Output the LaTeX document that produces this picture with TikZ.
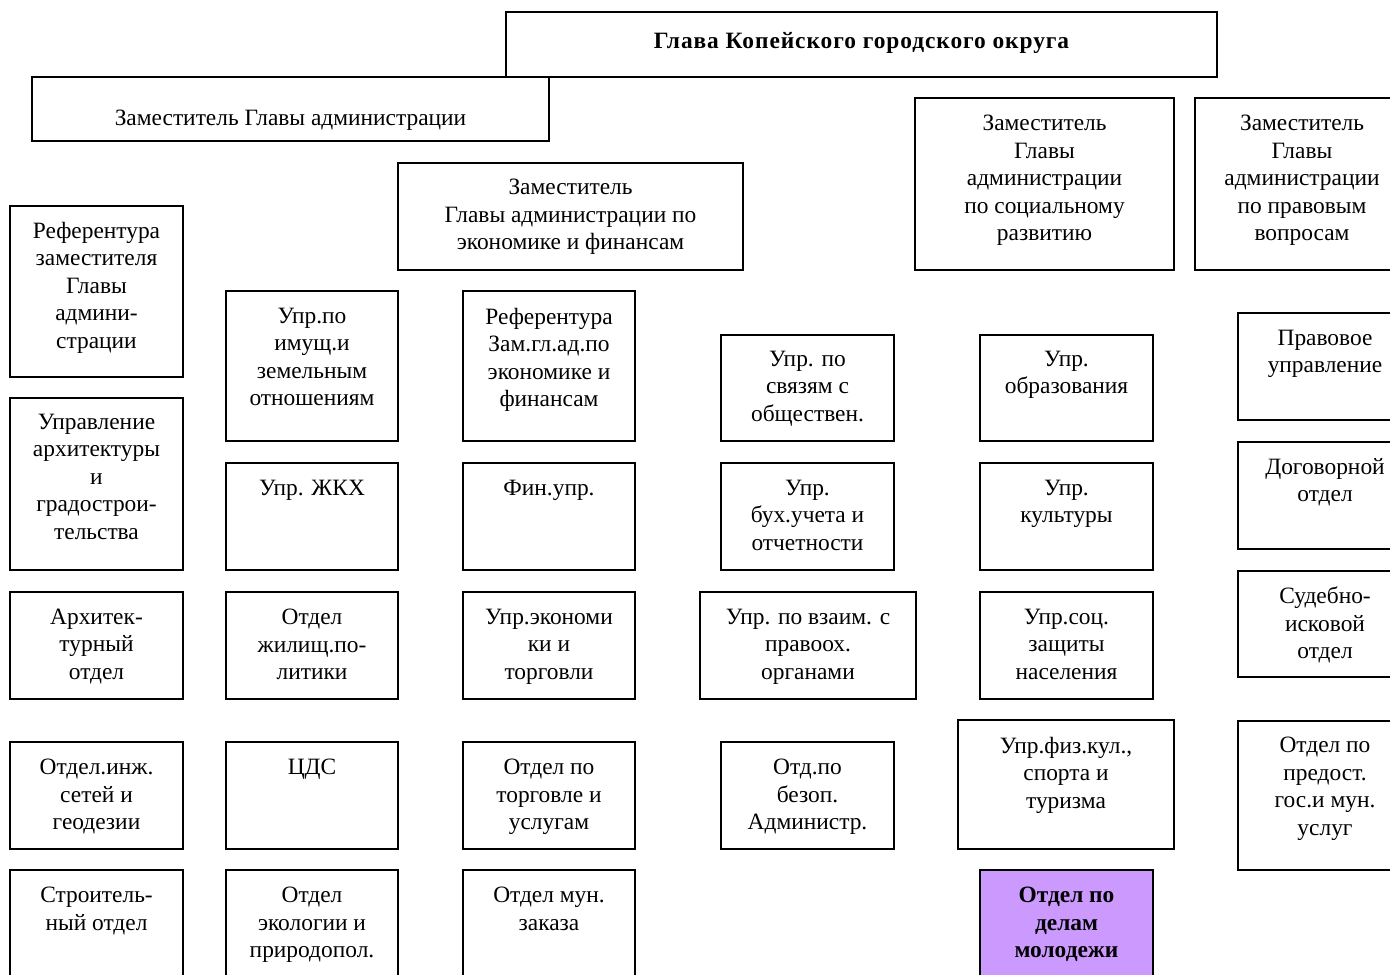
\documentclass[tikz,border=0pt]{standalone}
\usepackage{fontspec}
\setmainfont{Liberation Serif}
\definecolor{lav}{RGB}{204,153,255}
\tikzset{
  box/.style={draw=black, line width=0.8pt, rectangle, inner sep=0pt, outer sep=0pt},
  txt/.style={inner sep=0pt, outer sep=0pt, align=center, anchor=north,
    font=\fontsize{11.7}{13.75}\selectfont},
  boldtxt/.style={font=\fontsize{11.7}{13.75}\selectfont\bfseries},
  titletxt/.style={font=\fontsize{11.7}{13.75}\selectfont\bfseries\addfontfeature{LetterSpace=4}},
}
% [box style] name, x1, y1, x2, y2, first-line centre y, text style, text
\newcommand\ob[9][]{%
  \node[box,#1, minimum width={(#5-#3)*0.5pt}, minimum height={(#6-#4)*0.5pt}]
    (#2) at ({(#3+#5)/2},{(#4+#6)/2}) {};
  \node[txt,#8] (#2t) at ({(#3+#5)/2},{#7-8}) {#9};}
\begin{document}
\begin{tikzpicture}[x=0.5pt,y=-0.5pt]
\useasboundingbox (0,0) rectangle (1390,974);
\clip (0,0) rectangle (1390,974);
% top level
\ob{glava}{506}{12}{1217}{77}{40}{titletxt}{Глава Копейского городского округа}
\ob{zam}{32}{77}{549}{141}{118}{}{Заместитель Главы администрации}
\ob{zamec}{398}{163}{743}{270}{187}{}{Заместитель\\Главы администрации по\\экономике и финансам}
\ob{zamsoc}{915}{98}{1174}{270}{123}{}{Заместитель\\Главы\\администрации\\по социальному\\развитию}
\ob{zampr}{1195}{98}{1409}{270}{123}{}{Заместитель\\Главы\\администрации\\по правовым\\вопросам}
% column 1
\ob{a1}{10}{206}{183}{377}{230}{}{Референтура\\заместителя\\Главы\\админи-\\страции}
\ob{a2}{10}{398}{183}{570}{422}{}{Управление\\архитектуры\\и\\градострои-\\тельства}
\ob{a3}{10}{592}{183}{699}{617}{}{Архитек-\\турный\\отдел}
\ob{a4}{10}{742}{183}{849}{767}{}{Отдел.инж.\\сетей и\\геодезии}
\ob{a5}{10}{870}{183}{1000}{895}{}{Строитель-\\ный отдел}
% column 2
\ob{b1}{226}{291}{398}{441}{316}{}{Упр.по\\имущ.и\\земельным\\отношениям}
\ob{b2}{226}{463}{398}{570}{488}{}{Упр. ЖКХ}
\ob{b3}{226}{592}{398}{699}{617}{}{Отдел\\жилищ.по-\\литики}
\ob{b4}{226}{742}{398}{849}{767}{}{ЦДС}
\ob{b5}{226}{870}{398}{1000}{895}{}{Отдел\\экологии и\\природопол.}
% column 3
\ob{c1}{463}{291}{635}{441}{316}{}{Референтура\\Зам.гл.ад.по\\экономике и\\финансам}
\ob{c2}{463}{463}{635}{570}{488}{}{Фин.упр.}
\ob{c3}{463}{592}{635}{699}{617}{}{Упр.экономи\\ки и\\торговли}
\ob{c4}{463}{742}{635}{849}{767}{}{Отдел по\\торговле и\\услугам}
\ob{c5}{463}{870}{635}{1000}{895}{}{Отдел мун.\\заказа}
% column 4
\ob{d1}{721}{335}{894}{441}{359}{}{Упр. по\\связям с\\обществен.}
\ob{d2}{721}{463}{894}{570}{488}{}{Упр.\\бух.учета и\\отчетности}
\ob{d3}{700}{592}{916}{699}{617}{}{Упр. по взаим. с\\правоох.\\органами}
\ob{d4}{721}{742}{894}{849}{767}{}{Отд.по\\безоп.\\Администр.}
% column 5
\ob{e1}{980}{335}{1153}{441}{359}{}{Упр.\\образования}
\ob{e2}{980}{463}{1153}{570}{488}{}{Упр.\\культуры}
\ob{e3}{980}{592}{1153}{699}{617}{}{Упр.соц.\\защиты\\населения}
\ob{e4}{958}{720}{1174}{849}{745}{}{Упр.физ.кул.,\\спорта и\\туризма}
\ob[fill=lav]{e5}{980}{870}{1153}{1000}{895}{boldtxt}{Отдел по\\делам\\молодежи}
% column 6
\ob{f1}{1238}{313}{1412}{420}{338}{}{Правовое\\управление}
\ob{f2}{1238}{442}{1412}{549}{466}{}{Договорной\\отдел}
\ob{f3}{1238}{571}{1412}{677}{595}{}{Судебно-\\исковой\\отдел}
\ob{f4}{1238}{721}{1412}{870}{745}{}{Отдел по\\предост.\\гос.и мун.\\услуг}
\end{tikzpicture}
\end{document}
